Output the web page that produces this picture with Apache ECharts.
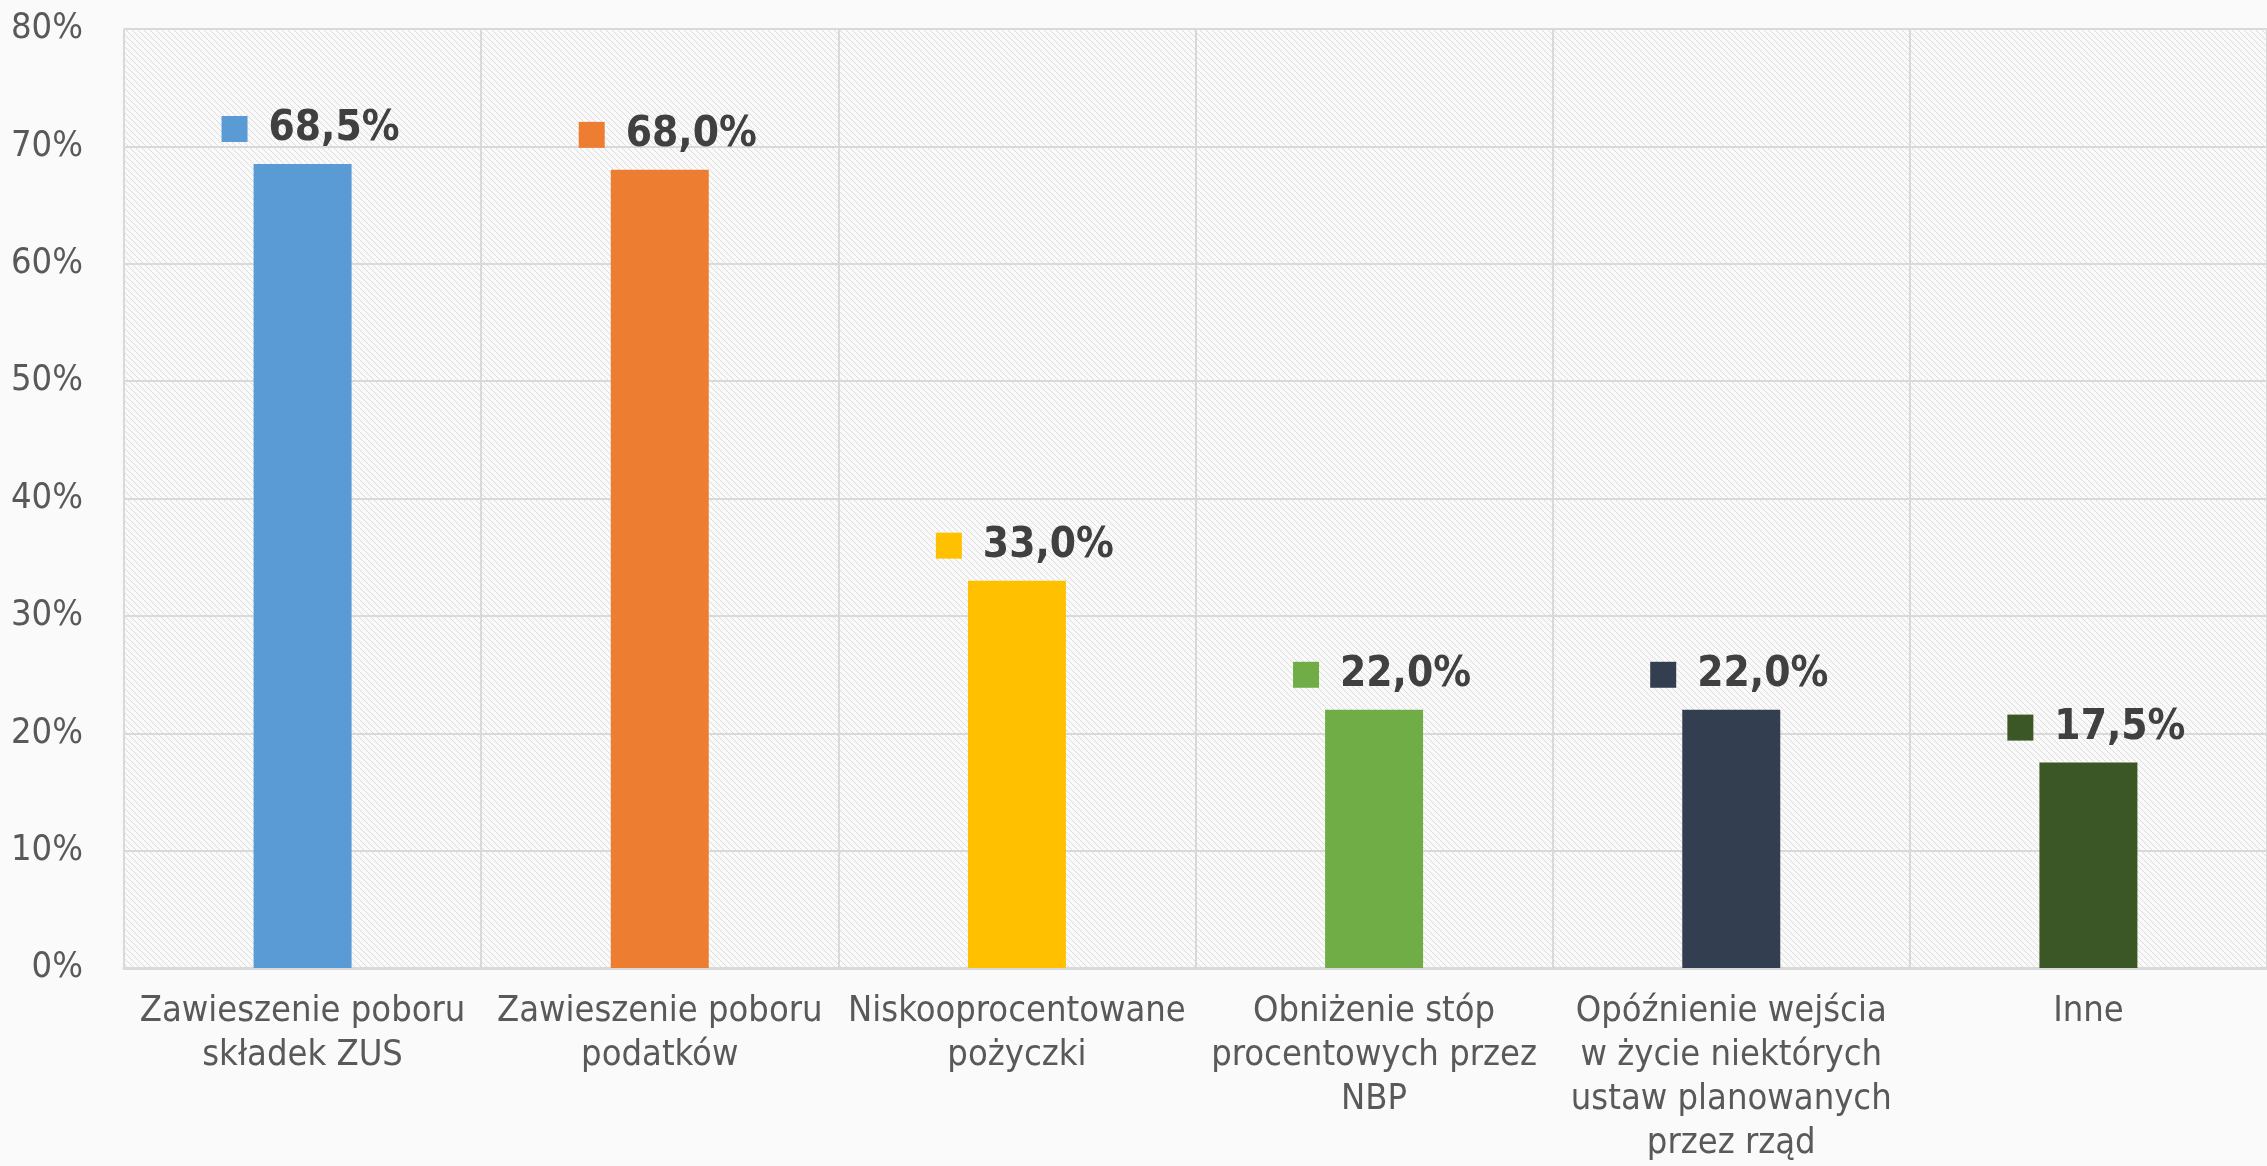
<!DOCTYPE html>
<html>
<head>
<meta charset="utf-8">
<script src="https://cdn.jsdelivr.net/npm/echarts@6/dist/echarts.min.js"></script>
<style>
  html, body { margin: 0; padding: 0; background: #fafafa; }
  #chart { width: 2267px; height: 1166px; }
</style>
</head>
<body>
<div id="chart"></div>
<script>
const categories = [
  "Zawieszenie poboru\nskładek ZUS",
  "Zawieszenie poboru\npodatków",
  "Niskooprocentowane\npożyczki",
  "Obniżenie stóp\nprocentowych przez\nNBP",
  "Opóźnienie wejścia\nw życie niektórych\nustaw planowanych\nprzez rząd",
  "Inne"
];
const values = [68.5, 68.0, 33.0, 22.0, 22.0, 17.5];
const colors = ["#5b9bd5", "#ed7d31", "#ffc000", "#70ad47", "#333f50", "#3a5725"];

// hatch pattern for the plot background
const hatch = document.createElement("canvas");
hatch.width = 6;
hatch.height = 6;
const hctx = hatch.getContext("2d");
hctx.fillStyle = "#fafafa";
hctx.fillRect(0, 0, 6, 6);
hctx.fillStyle = "#dcdcdc";
for (let i = 0; i < 6; i += 1) hctx.fillRect(i, i, 1, 1);

const font = "'Liberation Sans Narrow', 'DejaVu Sans Condensed', sans-serif";

const rich = {
  v: { fontSize: 42, fontWeight: "bold", color: "#404040", fontFamily: "'DejaVu Sans Condensed', 'Liberation Sans Narrow', sans-serif", padding: [0, 0, 0, 21] }
};
colors.forEach((c, i) => {
  rich["s" + i] = { width: 26, height: 26, backgroundColor: c };
});

const option = {
  backgroundColor: "#fafafa",
  animation: false,
  grid: {
    left: 124,
    right: 0,
    top: 29,
    bottom: 197,
    show: true,
    borderWidth: 0,
    backgroundColor: { image: hatch, repeat: "repeat" }
  },
  xAxis: {
    type: "category",
    data: categories,
    axisTick: { show: false },
    axisLine: { lineStyle: { color: "#d9d9d9", width: 3 } },
    splitLine: { show: true, interval: 0, lineStyle: { color: "#d9d9d9", width: 2 } },
    axisLabel: {
      interval: 0,
      margin: 22,
      fontSize: 36,
      lineHeight: 44,
      color: "#595959",
      fontFamily: font
    }
  },
  yAxis: {
    type: "value",
    min: 0,
    max: 80,
    interval: 10,
    axisLine: { show: false },
    axisTick: { show: false },
    splitLine: { lineStyle: { color: "#d9d9d9", width: 2 } },
    axisLabel: {
      formatter: "{value}%",
      margin: 41,
      fontSize: 36,
      color: "#595959",
      fontFamily: font
    }
  },
  series: [
    {
      type: "bar",
      barWidth: 98,
      data: values.map((v, i) => ({ value: v, itemStyle: { color: colors[i] } })),
      label: {
        show: true,
        position: "top",
        distance: 14,
        offset: [8, 0],
        rich: rich,
        formatter: p => "{s" + p.dataIndex + "|}{v|" + p.value.toFixed(1).replace(".", ",") + "%}"
      }
    }
  ]
};

const chart = echarts.init(document.getElementById("chart"));
chart.setOption(option);
</script>
</body>
</html>
